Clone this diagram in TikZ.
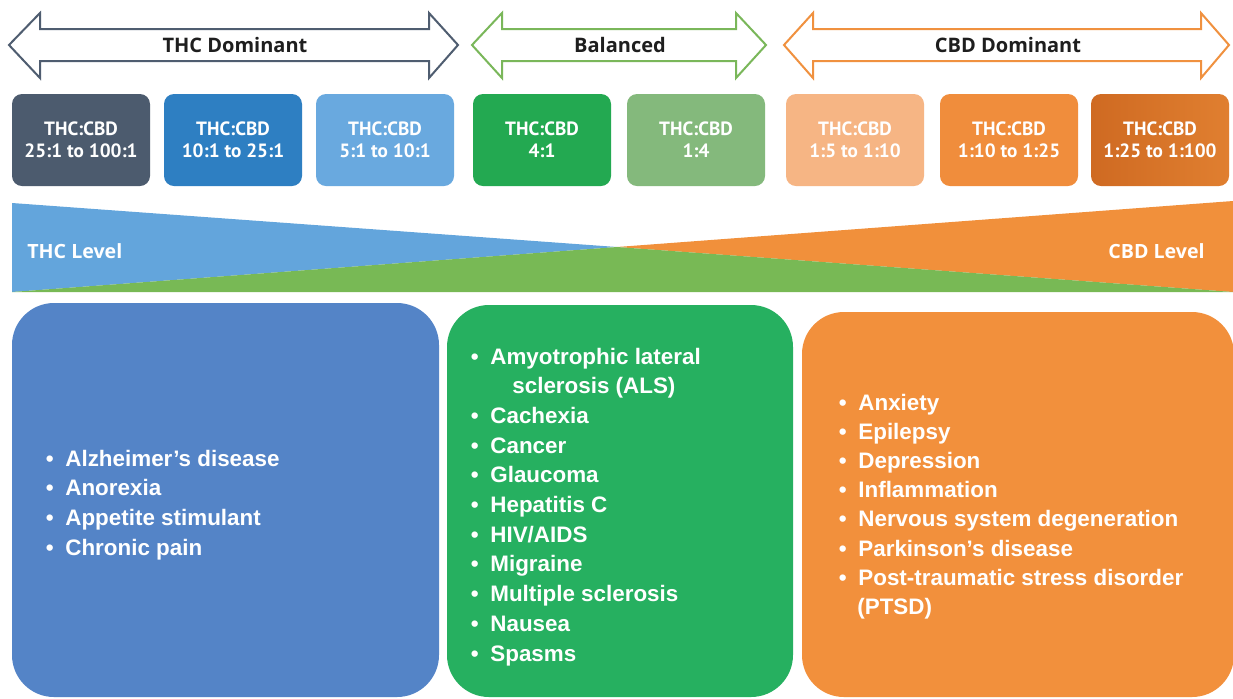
\documentclass[tikz,border=0pt]{standalone}
\usepackage{fontspec}
\setmainfont{Liberation Sans}
\newfontfamily\hdfont{PT Sans}
\newfontfamily\opfont{Open Sans}
\definecolor{arrgray}{HTML}{4F5D70}
\definecolor{arrgreen}{HTML}{7AB75A}
\definecolor{arrorange}{HTML}{F0913F}
\definecolor{hdtext}{HTML}{1E1E1E}
\definecolor{rA}{HTML}{4C5B6E}
\definecolor{rB}{HTML}{2E7FC2}
\definecolor{rC}{HTML}{69A9DF}
\definecolor{rD}{HTML}{23A951}
\definecolor{rE}{HTML}{84B97C}
\definecolor{rF}{HTML}{F6B584}
\definecolor{rG}{HTML}{F08D3C}
\definecolor{rH}{HTML}{CF6A22}
\definecolor{rHb}{HTML}{E07F30}
\definecolor{triblue}{HTML}{63A5DC}
\definecolor{trigreen}{HTML}{78B955}
\definecolor{triorange}{HTML}{F1903B}
\definecolor{boxblue}{HTML}{5484C7}
\definecolor{boxgreen}{HTML}{26B060}
\definecolor{boxorange}{HTML}{F2903C}
\newcommand\bul{\makebox[9.75pt][l]{•}}
\tikzset{
  dblarrow/.style={line width=1pt, fill=white, line join=miter},
  hdlabel/.style={font=\opfont\bfseries\fontsize{10}{12}\selectfont, text=hdtext, inner sep=0pt},
  ratiobox/.style={rounded corners=5pt, minimum width=69pt, minimum height=46pt, inner sep=0pt,
     align=center, text=white, font=\hdfont\bfseries\fontsize{9.6}{11}\selectfont},
  lvl/.style={font=\opfont\bfseries\fontsize{9.8}{12}\selectfont, text=white, inner sep=0pt},
  bigbox/.style={rounded corners=21pt},
  item/.style={font=\bfseries\fontsize{11.2}{13}\selectfont, text=white, inner sep=0pt, anchor=base west}
}
\begin{document}
\begin{tikzpicture}[x=0.5pt,y=-0.5pt]
\useasboundingbox (0,0) rectangle (1233,698);
\fill[white] (0,0) rectangle (1233,698);

% top double arrows
\draw[dblarrow, draw=arrgray] (9,45) -- (40,13) -- (40,29) -- (429,29) -- (429,13) -- (458,45)
  -- (429,78) -- (429,61) -- (40,61) -- (40,78) -- cycle;
\draw[dblarrow, draw=arrgreen] (472,45) -- (502,13) -- (502,29) -- (736,29) -- (736,13) -- (766,45)
  -- (736,78) -- (736,61) -- (502,61) -- (502,78) -- cycle;
\draw[dblarrow, draw=arrorange] (784,45) -- (813,13) -- (813,29) -- (1201,29) -- (1201,13) -- (1229,45)
  -- (1201,78) -- (1201,61) -- (813,61) -- (813,78) -- cycle;
\node[hdlabel, anchor=base] (hthc) at (235,52.5) {THC Dominant};
\node[hdlabel, anchor=base] (hbal) at (620,52.5) {Balanced};
\node[hdlabel, anchor=base] (hcbd) at (1008,52.5) {CBD Dominant};

% ratio boxes
\node[ratiobox, fill=rA] (r1) at (81,140) {THC:CBD\\25:1 to 100:1};
\node[ratiobox, fill=rB] (r2) at (233,140) {THC:CBD\\10:1 to 25:1};
\node[ratiobox, fill=rC] (r3) at (385,140) {THC:CBD\\5:1 to 10:1};
\node[ratiobox, fill=rD] (r4) at (542,140) {THC:CBD\\4:1};
\node[ratiobox, fill=rE] (r5) at (696,140) {THC:CBD\\1:4};
\node[ratiobox, fill=rF] (r6) at (855,140) {THC:CBD\\1:5 to 1:10};
\node[ratiobox, fill=rG] (r7) at (1009,140) {THC:CBD\\1:10 to 1:25};
\node[ratiobox, left color=rH, right color=rHb] (r8) at (1160,140) {THC:CBD\\1:25 to 1:100};

% level wedges
\fill[triblue] (12,203) -- (617,247) -- (12,292) -- cycle;
\fill[triorange] (1233,201) -- (617,247) -- (1233,292) -- cycle;
\fill[trigreen] (12,292) -- (617,247) -- (1233,292) -- cycle;
\node[lvl, anchor=base west] (thcl) at (27,258) {THC Level};
\node[lvl, anchor=base east] (cbdl) at (1205,258) {CBD Level};

% bottom boxes
\fill[bigbox, boxblue] (12,303) rectangle (439,697);
\fill[bigbox, boxgreen] (447,305) rectangle (793,697);
\fill[bigbox, boxorange] (802,312) rectangle (1234,697);

\foreach \t [count=\i from 0] in {Alzheimer’s disease, Anorexia, Appetite stimulant, Chronic pain}
  \node[item] (bl\i) at (45.5,{466+29.7*\i}) {\bul\t};

\node[item] (gr0) at (470.5,364) {\bul Amyotrophic lateral};
\node[item] (gr1) at (512,393.7) {sclerosis (ALS)};
\foreach \t [count=\i from 2] in {Cachexia, Cancer, Glaucoma, Hepatitis C, HIV/AIDS, Migraine, Multiple sclerosis, Nausea, Spasms}
  \node[item] (gr\i) at (470.5,{364+29.7*\i}) {\bul\t};

\foreach \t [count=\i from 0] in {Anxiety, Epilepsy, Depression, Inflammation, Nervous system degeneration, Parkinson’s disease, Post-traumatic stress disorder}
  \node[item] (or\i) at (838.5,{410+29.2*\i}) {\bul\t};
\node[item] (or7) at (857,{410+29.2*7}) {(PTSD)};
\end{tikzpicture}
\end{document}
